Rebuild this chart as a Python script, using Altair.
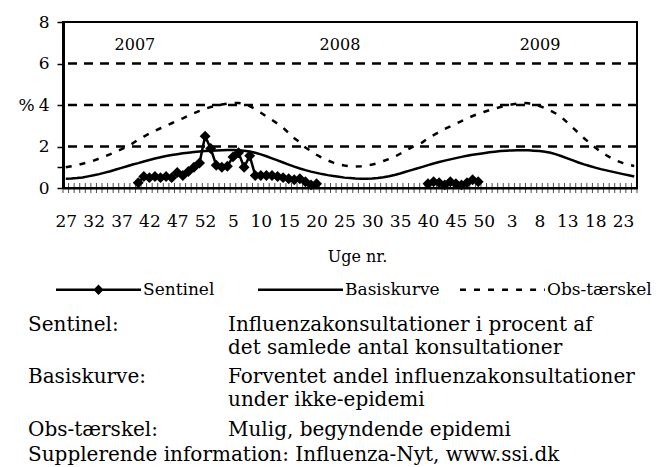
import altair as alt
import pandas as pd

# ---- data -------------------------------------------------------------
# week labels for the 103 categories: 2007 w27 .. 2009 w25
weeks = [str(w) for w in list(range(27, 53)) + list(range(1, 53)) + list(range(1, 26))]

basis = [
    0.45, 0.46, 0.48, 0.51, 0.56, 0.61, 0.67, 0.74, 0.81, 0.89,
    0.97, 1.05, 1.13, 1.20, 1.28, 1.35, 1.42, 1.48, 1.54, 1.59,
    1.63, 1.67, 1.70, 1.73, 1.76, 1.78, 1.80, 1.81, 1.82, 1.83,
    1.83, 1.82, 1.80, 1.76, 1.70, 1.62, 1.53, 1.43, 1.33, 1.23,
    1.13, 1.03, 0.94, 0.86, 0.79, 0.73, 0.67, 0.62, 0.58, 0.54,
    0.50, 0.48, 0.46, 0.45, 0.45, 0.46, 0.48, 0.52, 0.57, 0.63,
    0.70, 0.78, 0.86, 0.94, 1.02, 1.10, 1.18, 1.25, 1.32, 1.38,
    1.44, 1.50, 1.55, 1.60, 1.64, 1.68, 1.72, 1.75, 1.78, 1.80,
    1.81, 1.82, 1.82, 1.82, 1.80, 1.78, 1.75, 1.70, 1.62, 1.53,
    1.43, 1.33, 1.23, 1.14, 1.06, 0.98, 0.91, 0.85, 0.79, 0.73,
    0.67, 0.61, 0.55,
]

obs = [
    1.00, 1.05, 1.10, 1.17, 1.24, 1.32, 1.42, 1.52, 1.63, 1.75,
    1.87, 2.00, 2.15, 2.33, 2.48, 2.62, 2.76, 2.88, 3.00, 3.12,
    3.24, 3.36, 3.48, 3.60, 3.72, 3.82, 3.90, 3.96, 4.02, 4.07,
    4.10, 4.10, 4.06, 3.95, 3.80, 3.63, 3.45, 3.28, 3.10, 2.90,
    2.65, 2.40, 2.20, 1.95, 1.78, 1.60, 1.45, 1.33, 1.22, 1.14,
    1.08, 1.05, 1.04, 1.05, 1.08, 1.13, 1.20, 1.30, 1.40, 1.50,
    1.65, 1.80, 1.95, 2.08, 2.20, 2.40, 2.55, 2.70, 2.85, 2.97,
    3.10, 3.22, 3.35, 3.47, 3.57, 3.66, 3.75, 3.83, 3.90, 3.97,
    4.02, 4.07, 4.10, 4.08, 4.02, 3.95, 3.85, 3.72, 3.58, 3.40,
    3.15, 2.90, 2.65, 2.40, 2.17, 1.95, 1.75, 1.58, 1.42, 1.30,
    1.20, 1.12, 1.06,
]

# Sentinel season 2007/08: week 40 (2007) .. week 20 (2008)
sentinel_0708 = [
    0.25, 0.55, 0.50, 0.55, 0.50, 0.55, 0.50, 0.75, 0.60, 0.80, 1.00, 1.20, 2.50,
    1.90, 1.10, 1.00, 1.05, 1.50, 1.70, 1.00, 1.55, 0.60, 0.60, 0.60, 0.60, 0.55,
    0.50, 0.45, 0.40, 0.45, 0.30, 0.15, 0.20,
]
sentinel_0708_start = weeks.index("40")          # first week 40 -> 2007
# Sentinel season 2008/09: week 40 .. week 49 (2008)
sentinel_0809 = [0.20, 0.30, 0.25, 0.15, 0.30, 0.20, 0.15, 0.25, 0.40, 0.30]
sentinel_0809_start = 26 + 52 - 13               # week 40 of 2008

series_names = ["Sentinel", "Basiskurve", "Obs-tærskel"]
year_labels = ["2007", "2008", "2009"]
year_pos = [12.9, 49.7, 85.6]
gridlines = [2, 4, 6]

FONT = "DejaVu Serif"

# ---- tables -----------------------------------------------------------
rows = []
for i, v in enumerate(basis):
    rows.append({"x": i + 0.5, "value": v, "series": "Basiskurve", "seg": "b"})
for i, v in enumerate(obs):
    rows.append({"x": i + 0.5, "value": v, "series": "Obs-tærskel", "seg": "o"})
for k, v in enumerate(sentinel_0708):
    rows.append({"x": sentinel_0708_start + k + 0.5, "value": v, "series": "Sentinel", "seg": "s1"})
for k, v in enumerate(sentinel_0809):
    rows.append({"x": sentinel_0809_start + k + 0.5, "value": v, "series": "Sentinel", "seg": "s2"})
df = pd.DataFrame(rows)
sent = df[df.series == "Sentinel"]
solid = df[df.series != "Obs-tærskel"]
dashed = df[df.series == "Obs-tærskel"]

n = len(weeks)
label_pos = [i + 0.5 for i in range(0, n, 5)]
label_txt = [weeks[i] for i in range(0, n, 5)]
label_expr = "[" + ",".join("'%s'" % t for t in label_txt) + "][round((datum.value-0.5)/5)]"

xscale = alt.Scale(domain=[0, n], nice=False, zero=False)
yscale = alt.Scale(domain=[0, 8], nice=False)

x_axis = alt.Axis(
    values=label_pos, labelExpr=label_expr, ticks=False, grid=False,
    domainColor="black", domainWidth=2, labelFont=FONT, labelFontSize=17,
    labelColor="black", labelPadding=25, labelFlush=False, labelOverlap=False,
    title="Uge nr.", titleFont=FONT, titleFontSize=16, titleFontWeight="normal",
    titleColor="black", titlePadding=19, titleX=294, titleAlign="center")
y_axis = alt.Axis(
    values=[0, 1, 2, 4, 6, 8], labelExpr="datum.value == 1 ? '' : datum.label",
    grid=False, tickSize=6, tickColor="black", tickWidth=1.5,
    domainColor="black", domainWidth=3, labelFont=FONT, labelFontSize=17,
    labelColor="black", labelPadding=8, labelOverlap=False, labelFlush=False,
    title="%", titleAngle=0, titleX=-37, titleY=83, titleAlign="center",
    titleBaseline="middle", titleFont=FONT, titleFontSize=17,
    titleFontWeight="normal", titleColor="black")


def X(field="x"):
    return alt.X(field + ":Q", scale=xscale, axis=x_axis)


def Y(field="value"):
    return alt.Y(field + ":Q", scale=yscale, axis=y_axis)


# legend symbols as filled paths (unit box -1..1, scaled to 85 px)
BAR = "M-1,-0.03H1V0.03H-1Z"
DIAMOND = BAR + "M-0.12,0L0,-0.125L0.12,0L0,0.125Z"
DASHES = "".join(
    "M%.3f,-0.03H%.3fV0.03H%.3fZ" % (a, min(a + 0.14, 1.0), a)
    for a in [-1.0 + k * 0.33 for k in range(7)]
)

legend = alt.Legend(
    title=None, orient="none", legendX=-7, legendY=225,
    direction="horizontal", symbolSize=7225, symbolStrokeWidth=0,
    symbolFillColor="black", symbolOpacity=1,
    labelFont=FONT, labelFontSize=17, gridAlign="all",
    labelColor="black", labelOffset=2, columnPadding=10, padding=0)

shape_scale = alt.Scale(domain=series_names, range=[DIAMOND, BAR, DASHES])

grid = alt.Chart(pd.DataFrame({"value": gridlines})).mark_rule(
    color="black", strokeWidth=2.5, strokeDash=[9, 7]).encode(y=Y())

ticks = alt.Chart(pd.DataFrame({"x": list(range(0, n + 1)), "value": [0] * (n + 1)})).mark_tick(
    orient="vertical", size=10, thickness=1, color="black").encode(x=X(), y=Y())

lines_solid = alt.Chart(solid).mark_line(color="black", strokeWidth=2.5).encode(
    x=X(), y=Y(), detail="seg:N")

line_dashed = alt.Chart(dashed).mark_line(
    color="black", strokeWidth=2.5, strokeDash=[6, 8]).encode(x=X(), y=Y())

points = alt.Chart(sent).mark_point(
    shape="diamond", filled=True, size=120, color="black", opacity=1).encode(x=X(), y=Y())

# layer that only carries the legend symbols (the marks themselves are transparent)
legend_layer = alt.Chart(pd.DataFrame({"series": series_names, "x": [1] * 3, "value": [1] * 3})).mark_point(
    filled=True, color="black", opacity=0).encode(
    x=X(), y=Y(),
    shape=alt.Shape("series:N", scale=shape_scale, legend=legend))

years = alt.Chart(pd.DataFrame({"x": year_pos, "value": [6.9] * 3, "t": year_labels})).mark_text(
    font=FONT, fontSize=16, color="black").encode(x=X(), y=Y(), text="t:N")

notes = [
    ("Sentinel:", -35, 303),
    ("Influenzakonsultationer i procent af", 165, 303),
    ("det samlede antal konsultationer", 165, 326),
    ("Basiskurve:", -35, 355),
    ("Forventet andel influenzakonsultationer", 165, 355),
    ("under ikke-epidemi", 165, 378),
    ("Obs-tærskel:", -35, 408),
    ("Mulig, begyndende epidemi", 165, 408),
    ("Supplerende information: Influenza-Nyt, www.ssi.dk", -35, 433),
]
note_layers = [
    alt.Chart(pd.DataFrame({"t": [t]})).mark_text(
        font=FONT, fontSize=20, color="black", align="left", baseline="middle").encode(
        text="t:N", x=alt.value(px), y=alt.value(py))
    for t, px, py in notes
]

chart = alt.layer(grid, ticks, lines_solid, line_dashed, points, legend_layer, years,
                  *note_layers).properties(
    width=574, height=166,
    autosize=alt.AutoSizeParams(type="none"),
    padding={"left": 55, "top": 14, "right": 21, "bottom": 277},
    background="white",
).configure_view(stroke="black", strokeWidth=2).configure_axis(
    labelFont=FONT, titleFont=FONT).configure_legend(labelFont=FONT)

chart.save("out.html", embed_options={"renderer": "svg", "actions": False})
